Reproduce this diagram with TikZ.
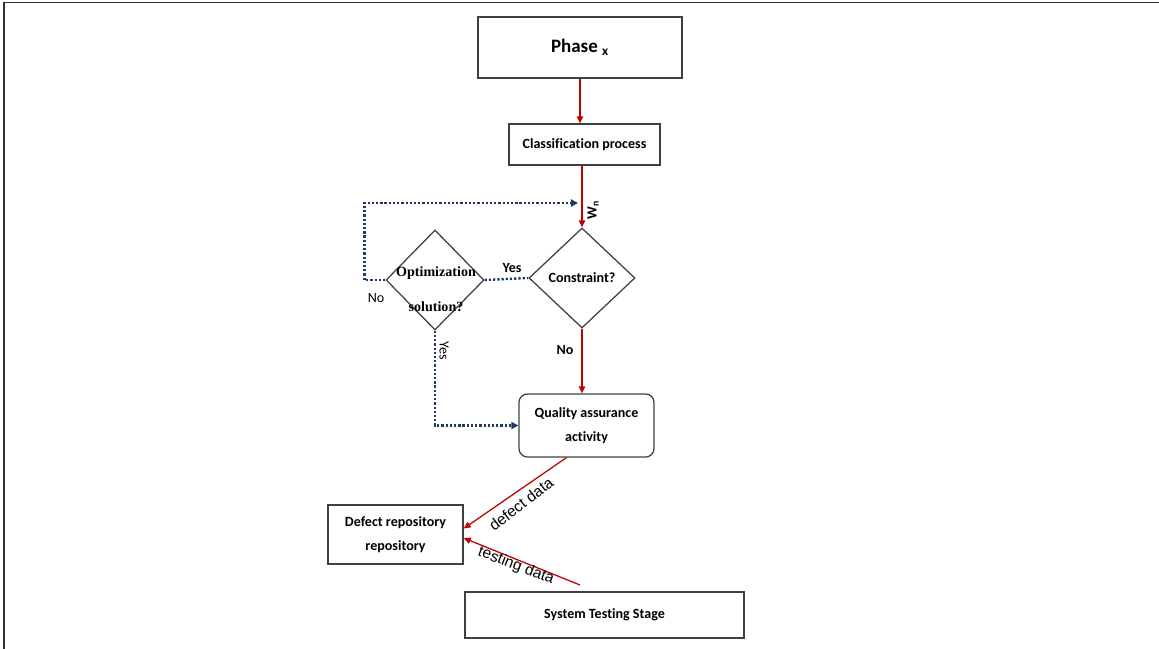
\documentclass[tikz,border=0pt]{standalone}
\usepackage{fontspec}
\setmainfont{Carlito}[Ligatures=NoCommon]
\newfontfamily\serifbf{Liberation Serif}
\newfontfamily\arialf{Liberation Sans}
\usetikzlibrary{positioning,shapes.geometric,arrows.meta}
\definecolor{flowred}{HTML}{C00000}
\definecolor{flownavy}{HTML}{1F3864}

\begin{document}
\begin{tikzpicture}[x=0.025cm,y=-0.025cm,
  box/.style={draw=black!75,line width=0.9pt,align=center,inner sep=0pt,
    font=\fontsize{10}{17}\selectfont\bfseries},
  decision/.style={diamond,draw=black!75,line width=0.9pt,inner sep=0pt},
  redarrow/.style={draw=flowred,line width=0.9pt,-{Triangle[length=5pt,width=4.5pt]}},
  dotline/.style={draw=flownavy,line width=1.7pt,dash pattern=on 1.6pt off 1.4pt},
  dottip/.style={-{Triangle[length=5pt,width=5pt]}},
  lbl/.style={inner sep=1pt,font=\fontsize{10}{12}\selectfont}]
\useasboundingbox (0,0) rectangle (1159,649);
\draw[line width=1.2pt,black!80] (4,649) -- (4,2.5) -- (1159,2.5);

% boxes
\node[box,minimum width=5.1cm,minimum height=1.525cm,font=\fontsize{13.5}{15}\selectfont\bfseries] (phase) at (580,47.5) {Phase \textsubscript{x}};
\node[box,minimum width=3.775cm,minimum height=1.025cm] (cls) at (584.5,144.5) {Classification process};
\node[decision,minimum width=2.65cm,minimum height=2.5cm,font=\fontsize{10}{12}\selectfont\bfseries] (cons) at (582,278) {Constraint?};
\node[decision,minimum width=2.45cm,minimum height=2.5cm] (opt) at (435,280) {};
\node[align=center,font=\serifbf\bfseries\fontsize{10}{25}\selectfont] (optlbl) at (436,289) {Optimization\\solution?};
\node[box,rounded corners=6pt,minimum width=3.375cm,minimum height=1.575cm] (qa) at (586.5,425.5) {Quality assurance\\activity};
\node[box,minimum width=3.375cm,minimum height=1.475cm] (defect) at (395.5,534.5) {Defect repository\\repository};
\node[box,minimum width=6.975cm,minimum height=1.15cm] (sys) at (604.5,615) {System Testing Stage};

\coordinate (wn) at (578,203);
\coordinate (tstart) at (580,585);

% connectors
\draw[redarrow] (phase.south) -- (phase.south |- cls.north);
\draw[redarrow] (cls.south -| cons.north) -- (cons.north);
\draw[redarrow] (cons.south) -- (cons.south |- qa.north);
\draw[redarrow] (qa.238) -- (defect.5);
\draw[redarrow] (tstart) -- (defect.-3);
\draw[dotline,dottip] (opt.west) -- ++(-21,0) |- (wn);
\draw[dotline] (opt.east) -- (cons.west);
\draw[dotline,dottip] (opt.south) |- (qa.west);

% labels
\node[lbl] (nolft) at (376,298) {No};
\node[lbl,font=\fontsize{10}{12}\selectfont\bfseries] (yestop) at (512,268) {Yes};
\node[lbl,font=\fontsize{10}{12}\selectfont\bfseries] (nobot) at (565,350) {No};
\node[lbl,rotate=-90] (yesside) at (444,351) {Yes};
\node[lbl,rotate=90,font=\fontsize{10}{12}\selectfont\bfseries] (wnlbl) at (593,210) {W\textsubscript{n}};
\node[inner sep=0pt,rotate=38,font=\arialf\fontsize{11}{13}\selectfont] (defdata) at (521,504) {defect data};
\node[inner sep=0pt,rotate=-21,font=\arialf\fontsize{11}{13}\selectfont] (testdata) at (516,566) {testing data};
\end{tikzpicture}
\end{document}
